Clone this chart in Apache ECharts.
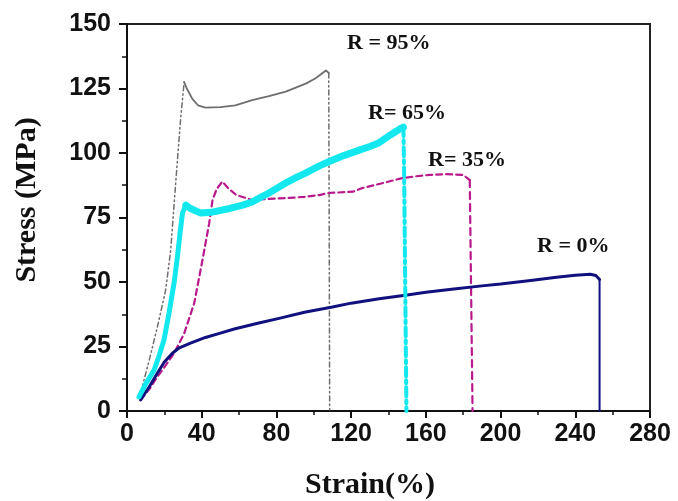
<!DOCTYPE html>
<html>
<head>
<meta charset="utf-8">
<script src="https://cdn.jsdelivr.net/npm/echarts@6/dist/echarts.min.js"></script>
<style>html,body{margin:0;padding:0;background:#fff;}#c{width:678px;height:501px;}</style>
</head>
<body>
<div id="c"></div>
<script>
// ---- data (strain %, stress MPa) ----
const xTicks = [0, 40, 80, 120, 160, 200, 240, 280];
const yTicks = [0, 25, 50, 75, 100, 125, 150];

const r0Curve = [[7.3,4.3],[12,9.5],[16.3,14.7],[20,19],[24.3,22.4],[28,24.5],[34,26.3],[42,28.5],[50,30.2],[57.4,31.8],[70,34],[82,36],[95,38.3],[110,40.3],[120,41.8],[135,43.5],[150,45],[160,46],[175,47.3],[190,48.5],[200,49.2],[215,50.5],[230,51.8],[240,52.6],[248,53],[251,52.5],[253,51]];
const r0Drop = [[253,51],[253,0]];

const r35Curve = [[7.3,4.3],[12,8.5],[16.3,13.3],[21,18],[25.2,22.4],[30.6,30],[36,41.8],[40.4,58.5],[44,72.8],[45.8,81.8],[48,86],[51,88.9],[54,86.5],[58.5,83.7],[67,81.8],[75,82.2],[85,82.5],[95,83],[103,83.7],[108,84.5],[121,85],[126,86.4],[135,88],[147.5,90.3],[155,91],[162,91.5],[170,91.8],[180,91.5],[183.5,89.5]];
const r35Drop = [[183.5,89.5],[184,60],[184.5,30],[185,0]];

const r65Rise = [[6.4,5.5],[10,10.5],[14.5,15.9],[17,21],[19.8,27.5],[22.5,38],[25.2,49.6],[27,59.8],[28.4,69],[29.7,76.7],[31.5,79.8]];
const r65Curve = [[31.5,79.8],[34,78.5],[39.5,76.7],[45,77],[55,78.5],[62,79.8],[67,81],[72,83],[76,84.5],[85,88.4],[90,90.3],[95,92],[103,95],[108,96.6],[116,99],[124,101],[130,102.5],[135,104],[141,107],[146,109.3],[148,110]];
const r65Drop = [[148,110],[148.4,90],[148.8,60],[149.2,30],[149.6,0]];

const r95Rise = [[7.3,7],[12,20],[16.3,32.7],[20.7,46.9],[23.4,62.4],[25.2,80],[27,97.3],[28.8,114],[30.6,127.5]];
const r95Curve = [[30.6,127.5],[32,125],[35,121],[38,118.5],[42,117.6],[50,117.8],[58,118.5],[67,120.5],[76,122],[85,123.8],[96,127],[101,129],[106.5,132],[108,131]];
const r95Drop = [[108,131],[108.3,60],[108.5,0]];

const curveLabels = ['R = 95%', 'R= 65%', 'R= 35%', 'R = 0%'];

// ---- chart ----
const chart = echarts.init(document.getElementById('c'), null, {renderer: 'canvas'});
const labelFont = {fontFamily: 'Liberation Sans', fontWeight: 'bold', fontSize: 25, color: '#111'};
function line(data, color, width, type, z) {
  return {type: 'line', data: data, showSymbol: false, symbol: 'none', silent: true, z: z || 2,
    lineStyle: {color: color, width: width, type: type, cap: 'round', join: 'round'}, animation: false};
}
const NAVY = '#10107e', MAG = '#b8198c', CYAN = '#12e8ee', GREY = '#6e6e6e';

chart.setOption({
  backgroundColor: '#fff',
  animation: false,
  grid: {left: 127, right: 28, top: 24, bottom: 90, show: true, borderColor: '#222', borderWidth: 2, backgroundColor: 'transparent'},
  xAxis: {
    type: 'value', min: xTicks[0], max: xTicks[xTicks.length - 1], interval: 40,
    axisLine: {show: true, lineStyle: {color: '#111', width: 2}},
    axisTick: {show: true, inside: false, length: 7, lineStyle: {color: '#111', width: 2}},
    minorTick: {show: true, splitNumber: 2, length: 4, lineStyle: {color: '#111', width: 1.5}},
    splitLine: {show: false},
    axisLabel: Object.assign({margin: 11}, labelFont)
  },
  yAxis: {
    type: 'value', min: yTicks[0], max: yTicks[yTicks.length - 1], interval: 25,
    axisLine: {show: true, lineStyle: {color: '#111', width: 2}},
    axisTick: {show: true, inside: false, length: 8, lineStyle: {color: '#111', width: 2}},
    minorTick: {show: true, splitNumber: 2, length: 5, lineStyle: {color: '#111', width: 1.5}},
    splitLine: {show: false},
    axisLabel: Object.assign({margin: 16}, labelFont)
  },
  series: [
    line(r95Rise, GREY, 1.5, [5, 3, 1.5, 3, 1.5, 3]),
    line(r95Curve, GREY, 1.8, 'solid'),
    line(r95Drop, GREY, 1.5, [5, 3, 1.5, 3, 1.5, 3]),
    line(r35Curve, MAG, 2.2, [6, 4]),
    line(r35Drop, MAG, 2.2, [7, 5]),
    line(r0Curve, NAVY, 3, 'solid', 3),
    line(r0Drop, NAVY, 2, 'solid', 3),
    line(r65Rise, CYAN, 5, 'solid', 4),
    line(r65Curve, CYAN, 7, 'solid', 4),
    line(r65Drop, CYAN, 4, [9, 4, 3, 4], 4)
  ],
  graphic: [
    {type: 'text', x: 27, y: 200, rotation: Math.PI / 2, style: {text: 'Stress (MPa)', font: 'bold 30px "Liberation Serif"', fill: '#111', x: 0, y: 0, align: 'center', verticalAlign: 'middle'}},
    {type: 'text', x: 370, y: 485, style: {text: 'Strain(%)', font: 'bold 30px "Liberation Serif"', fill: '#111', align: 'center', verticalAlign: 'middle'}},
    {type: 'text', x: 347, y: 43, style: {text: curveLabels[0], font: 'bold 22px "Liberation Serif"', fill: '#111', align: 'left', verticalAlign: 'middle'}},
    {type: 'text', x: 368, y: 113, style: {text: curveLabels[1], font: 'bold 22px "Liberation Serif"', fill: '#111', align: 'left', verticalAlign: 'middle'}},
    {type: 'text', x: 428, y: 160, style: {text: curveLabels[2], font: 'bold 22px "Liberation Serif"', fill: '#111', align: 'left', verticalAlign: 'middle'}},
    {type: 'text', x: 537, y: 246, style: {text: curveLabels[3], font: 'bold 22px "Liberation Serif"', fill: '#111', align: 'left', verticalAlign: 'middle'}}
  ]
});
</script>
</body>
</html>
